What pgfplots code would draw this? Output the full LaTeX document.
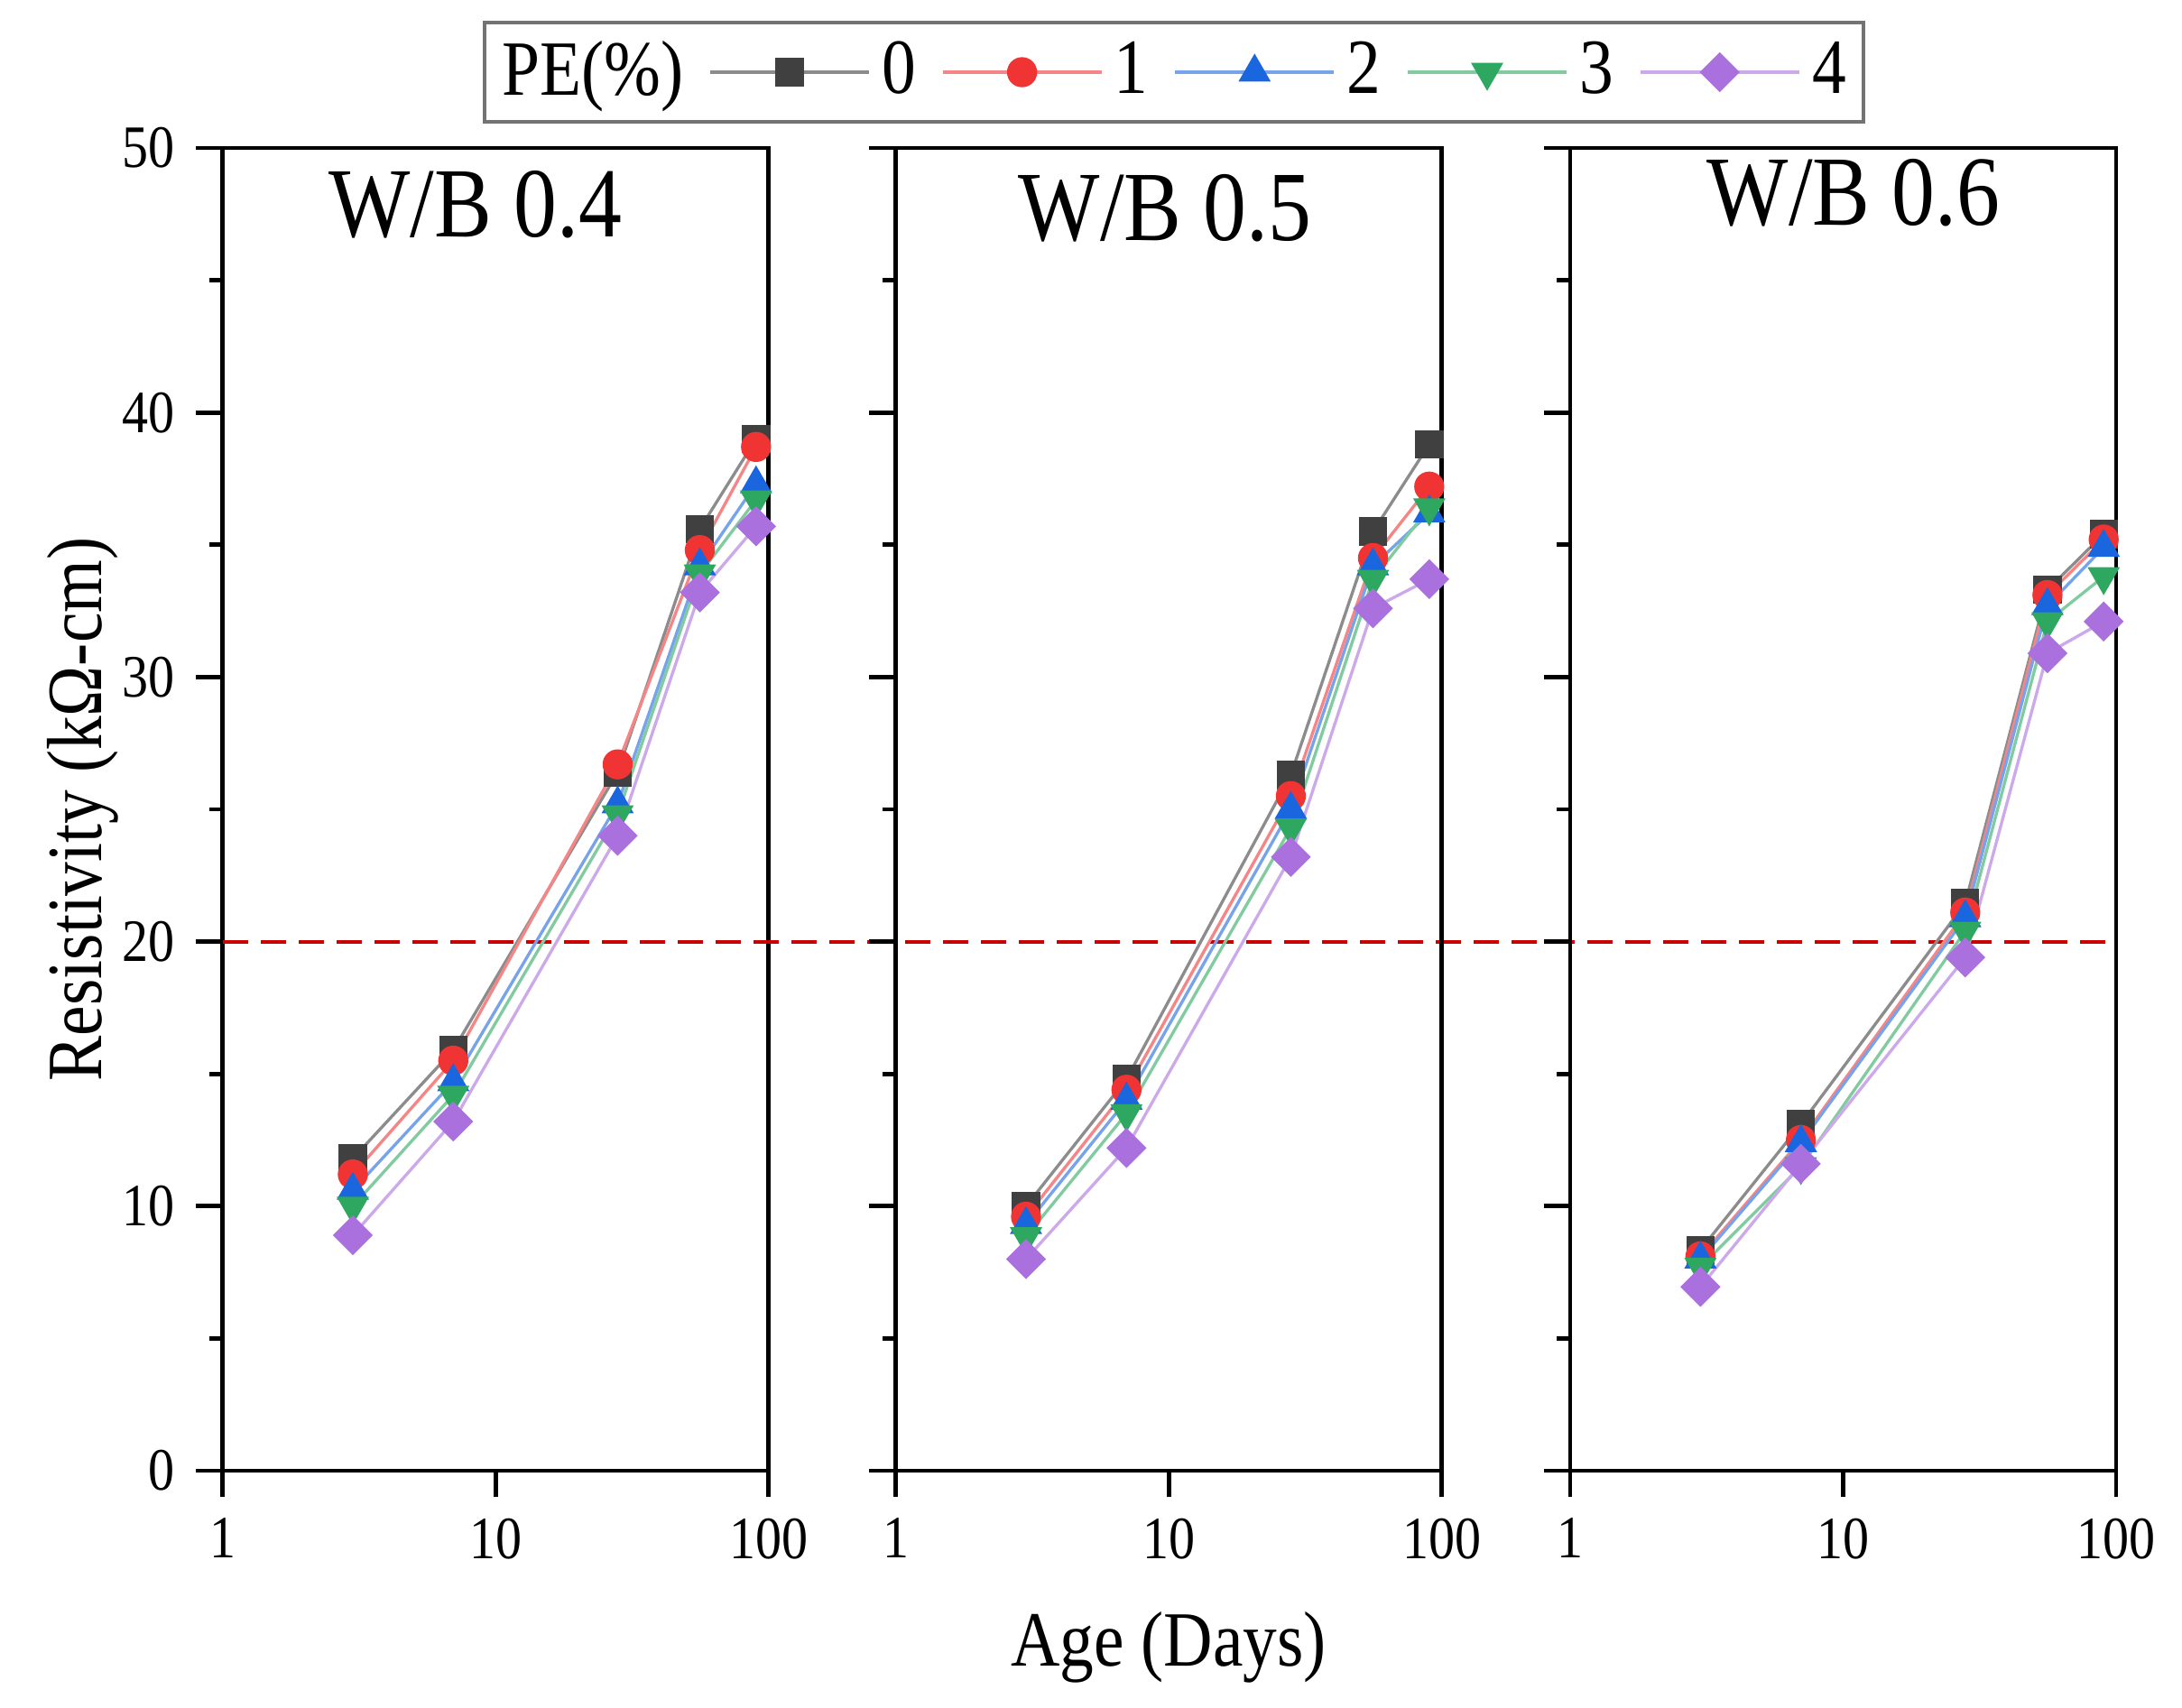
\documentclass[border=0pt]{standalone}
\usepackage{fontspec}
\setmainfont{Liberation Serif}[FakeStretch=0.87]
\usepackage{pgfplots}
\usepackage{pgfplotstable}
\pgfplotsset{compat=1.18}

\definecolor{c0}{RGB}{64,64,64}
\definecolor{c1}{RGB}{240,52,52}
\definecolor{c2}{RGB}{26,102,222}
\definecolor{c3}{RGB}{46,168,96}
\definecolor{c4}{RGB}{170,112,222}
\definecolor{refred}{RGB}{200,0,0}

\pgfplotstableread{
x  s0    s1    s2    s3    s4
3  11.8  11.2  10.6  10.0  8.9
7  15.9  15.5  14.7  14.2  13.2
28 26.4  26.7  25.2  24.8  24.0
56 35.6  34.8  34.2  33.9  33.2
90 39.0  38.7  37.3  36.7  35.7
}\tA
\pgfplotstableread{
x  s0    s1    s2    s3    s4
3  10.0  9.6   9.3   8.85  8.0
7  14.8  14.4  14.0  13.5  12.2
28 26.3  25.5  25.0  24.3  23.2
56 35.5  34.5  34.2  33.7  32.6
90 38.8  37.2  36.2  36.4  33.7
}\tB
\pgfplotstableread{
x  s0    s1    s2    s3    s4
3  8.35  8.1   8.0   7.7   6.95
7  13.1  12.5  12.4  11.5  11.6
28 21.45 21.1  20.9  20.4  19.4
56 33.3  33.1  32.7  32.1  30.9
90 35.4  35.2  34.9  33.8  32.1
}\tC

\pgfplotsset{
  every axis/.append style={
    xmode=log, log basis x=10, xmin=1, xmax=100, ymin=0, ymax=50,
    scale only axis, width=90.75pt, height=219.9pt,
    anchor=south west,
    axis line style={line width=0.7pt, black},
    xtick={1,10,100}, xticklabels={1,10,100},
    ytick={0,10,20,30,40,50}, minor ytick={5,15,25,35,45},
    xtick pos=bottom, ytick pos=left, tick align=outside,
    major tick length=4.4pt, minor tick length=2.2pt,
    tick style={line width=0.7pt, black},
    ticklabel style={font=\fontsize{10}{12}\selectfont},
    label style={font=\fontsize{13}{15}\selectfont},
    /pgf/number format/assume math mode=true,
  },
  plA/.style={color=c0!60!white, line width=0.5pt, mark=square*, mark size=2.1pt, mark options={fill=c0, draw=c0}},
  plB/.style={color=c1!60!white, line width=0.5pt, mark=*, mark size=2.25pt, mark options={fill=c1, draw=c1}},
  plC/.style={color=c2!60!white, line width=0.5pt, mark=triangle*, mark size=2.6pt, mark options={fill=c2, draw=c2}},
  plD/.style={color=c3!60!white, line width=0.5pt, mark=triangle*, mark size=2.6pt, mark options={fill=c3, draw=c3, rotate=180}},
  plE/.style={color=c4!60!white, line width=0.5pt, mark=square*, mark size=2.1pt, mark options={fill=c4, draw=c4, rotate=45}},
}

\begin{document}
\begin{tikzpicture}
\path[use as bounding box] (0,0) rectangle (362.7pt,283.8pt);

\begin{axis}[at={(37.0pt,39.3pt)}, clip=false,
  yticklabels={0,10,20,30,40,50},
  ylabel={Resistivity (kΩ-cm)},
  ylabel style={at={(rel axis cs:-0.222,0.5)}, anchor=base},
]
\draw[refred, line width=0.6pt, dash pattern=on 4.2pt off 2.1pt] (rel axis cs:0,0.4) -- (rel axis cs:3.468,0.4);
\addplot[plA] table[x=x,y=s0]{\tA};
\addplot[plB] table[x=x,y=s1]{\tA};
\addplot[plC] table[x=x,y=s2]{\tA};
\addplot[plD] table[x=x,y=s3]{\tA};
\addplot[plE] table[x=x,y=s4]{\tA};
\node[anchor=base, font=\fontsize{16.5}{19}\selectfont] at (rel axis cs:0.463,0.933) {W/B 0.4};
\end{axis}

\begin{axis}[at={(148.9pt,39.3pt)},
  yticklabels={},
  xlabel={Age (Days)},
  xlabel style={at={(rel axis cs:0.5,-0.148)}, anchor=base},
  legend columns=-1,
  legend style={at={(rel axis cs:0.5096,1.0573)}, anchor=center,
    draw=black!55, line width=0.6pt,
    font=\fontsize{13}{15}\selectfont,
    inner xsep=1pt, inner ysep=2pt,
    nodes={inner xsep=1.9pt, inner ysep=1pt},
    /tikz/every even column/.append style={column sep=2.3pt}},
  legend image code/.code={\draw[mark repeat=2,mark phase=2] plot coordinates {(0pt,0pt) (13.2pt,0pt) (26.4pt,0pt)};},
]
\addlegendimage{empty legend}
\addlegendentry{PE(\%)}
\addplot[plA] table[x=x,y=s0]{\tB}; \addlegendentry{0}
\addplot[plB] table[x=x,y=s1]{\tB}; \addlegendentry{1}
\addplot[plC] table[x=x,y=s2]{\tB}; \addlegendentry{2}
\addplot[plD] table[x=x,y=s3]{\tB}; \addlegendentry{3}
\addplot[plE] table[x=x,y=s4]{\tB}; \addlegendentry{4}
\node[anchor=base, font=\fontsize{16.5}{19}\selectfont] at (rel axis cs:0.493,0.930) {W/B 0.5};
\end{axis}

\begin{axis}[at={(261.0pt,39.3pt)},
  yticklabels={},
]
\addplot[plA] table[x=x,y=s0]{\tC};
\addplot[plB] table[x=x,y=s1]{\tC};
\addplot[plC] table[x=x,y=s2]{\tC};
\addplot[plD] table[x=x,y=s3]{\tC};
\addplot[plE] table[x=x,y=s4]{\tC};
\node[anchor=base, font=\fontsize{16.5}{19}\selectfont] at (rel axis cs:0.519,0.942) {W/B 0.6};
\end{axis}
\end{tikzpicture}
\end{document}
